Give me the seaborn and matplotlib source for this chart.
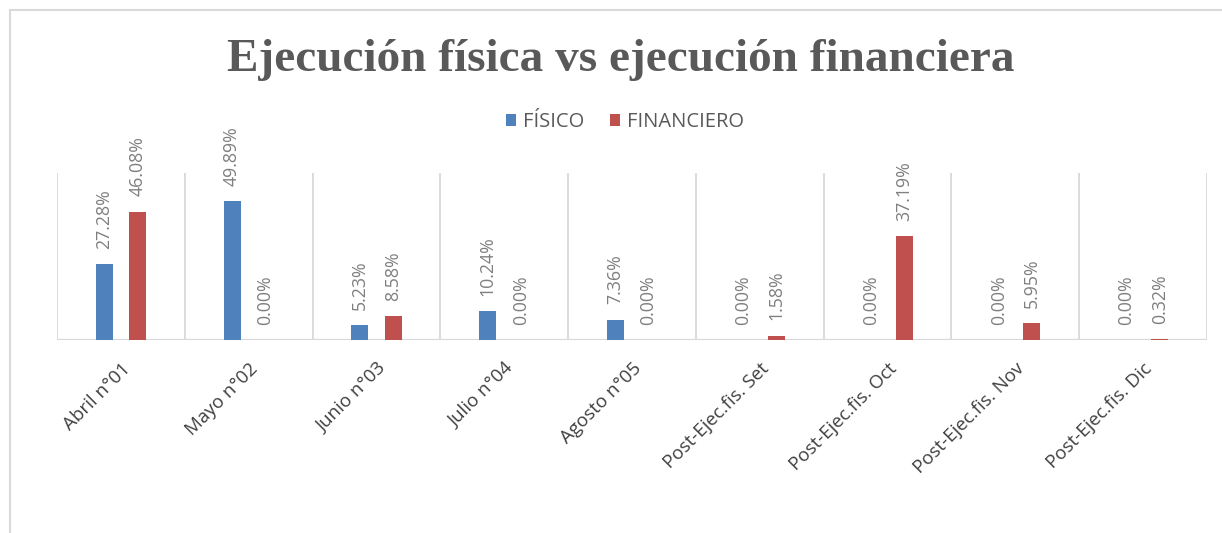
import matplotlib
matplotlib.use('Agg')
import matplotlib.pyplot as plt
import seaborn as sns
import pandas as pd
from matplotlib.patches import Rectangle

# datos
categorias = ['Abril n°01', 'Mayo n°02', 'Junio n°03', 'Julio n°04', 'Agosto n°05',
              'Post-Ejec.fis. Set', 'Post-Ejec.fis. Oct', 'Post-Ejec.fis. Nov',
              'Post-Ejec.fis. Dic']
fisico = [27.28, 49.89, 5.23, 10.24, 7.36, 0.00, 0.00, 0.00, 0.00]
financiero = [46.08, 0.00, 8.58, 0.00, 0.00, 1.58, 37.19, 5.95, 0.32]
series = ['FÍSICO', 'FINANCIERO']
colores = ['#4f81bd', '#c0504d']
titulo = 'Ejecución física vs ejecución financiera'

df = pd.DataFrame({
    'mes': categorias * 2,
    'serie': [series[0]] * len(fisico) + [series[1]] * len(financiero),
    'valor': fisico + financiero,
})

sns.set_theme(style='white')
plt.rcParams['font.family'] = ['Open Sans', 'DejaVu Sans']

W, H = 1222, 533
fig = plt.figure(figsize=(W / 100, H / 100), dpi=100)
ax = fig.add_axes([57 / W, 1 - 340 / H, 1150 / W, 167 / H])

sns.barplot(data=df, x='mes', y='valor', hue='serie', palette=colores,
            saturation=1, width=0.52, gap=0.49, linewidth=0, ax=ax)

# leyenda arriba, centrada
handles, labels = ax.get_legend_handles_labels()
ax.get_legend().remove()
fig.legend(handles, labels, loc='center', bbox_to_anchor=(625 / W, 1 - 122 / H),
           ncol=2, frameon=False, handlelength=0.5, handleheight=0.5,
           handletextpad=0.35, columnspacing=1.3, fontsize=14.5,
           labelcolor='#595959')

# etiquetas de datos
for cont, vals in zip(ax.containers, [fisico, financiero]):
    for bar, v in zip(cont, vals):
        ax.annotate(f'{v:.2f}%', (bar.get_x() + bar.get_width() / 2, bar.get_height()),
                    xytext=(0, 11), textcoords='offset points', rotation=90,
                    ha='center', va='bottom', fontsize=12.8, color='#7f7f7f',
                    annotation_clip=False)

# separadores entre categorias
for i in range(len(categorias) + 1):
    ax.axvline(i - 0.5, color='#d9d9d9', lw=1.3, zorder=0)
ax.axhline(0, color='#d9d9d9', lw=1.6, zorder=0)

ax.set_xlim(-0.5, len(categorias) - 0.5)
ax.set_ylim(0, 60)
ax.set_yticks([])
ax.set_xlabel('')
ax.set_ylabel('')
for s in ax.spines.values():
    s.set_visible(False)

ax.set_xticks(range(len(categorias)))
ax.set_xticklabels(categorias, rotation=45, ha='right', va='top',
                   rotation_mode='anchor', fontsize=13.5, color='#404040')
ax.tick_params(axis='x', length=0, pad=14)

fig.text(621 / W, 1 - 71 / H, titulo, ha='center', va='baseline', fontsize=34,
         fontweight='bold', family='Liberation Serif', color='#595959')

# marco del grafico
fig.add_artist(Rectangle((10 / W, -0.1), 1.2, 1 - 10 / H + 0.1,
                         transform=fig.transFigure, fill=False,
                         edgecolor='#d9d9d9', lw=1.5))

fig.savefig('out.png', dpi=100)
